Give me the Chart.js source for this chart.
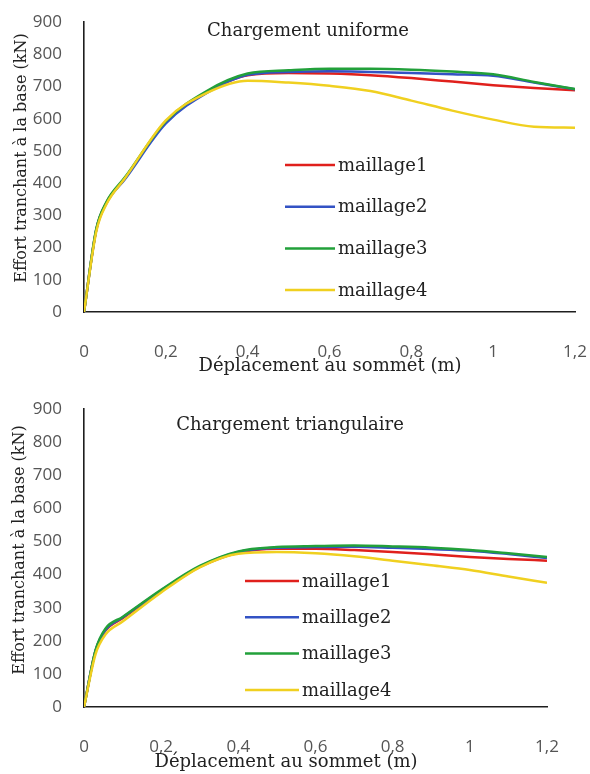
<!DOCTYPE html>
<html>
<head>
<meta charset="utf-8">
<script src="https://cdn.jsdelivr.net/npm/chart.js@4.4.1/dist/chart.umd.min.js"></script>
<style>
  html, body { margin: 0; padding: 0; background: #ffffff; }
  #wrap { position: relative; width: 590px; height: 774px; }
  .panel { position: absolute; left: 0; width: 590px; height: 387px; }
</style>
</head>
<body>
<div id="wrap">
  <div class="panel" style="top:0"><canvas id="cUniform" width="590" height="387"></canvas></div>
  <div class="panel" style="top:387px"><canvas id="cTriang" width="590" height="387"></canvas></div>
</div>
<script>
// Top displacement (m) at which the base shear was sampled
const displacement = [0, 0.03, 0.055, 0.1, 0.2, 0.3, 0.4, 0.5, 0.6, 0.7, 0.8, 0.9, 1.0, 1.1, 1.2];

// Base shear (kN) - uniform loading
const uniformMesh1 = [0, 255, 340, 415, 590, 682, 735, 742, 740, 735, 726, 715, 704, 695, 688];
const uniformMesh2 = [0, 255, 338, 412, 585, 680, 736, 745, 747, 745, 742, 738, 733, 712, 691];
const uniformMesh3 = [0, 258, 342, 418, 592, 686, 740, 750, 755, 755, 752, 746, 738, 714, 692];
const uniformMesh4 = [0, 250, 335, 415, 595, 680, 718, 712, 702, 686, 656, 625, 597, 575, 572];

// Base shear (kN) - triangular loading
const triangMesh1 = [0, 170, 230, 268, 350, 423, 466, 478, 478, 474, 468, 461, 453, 447, 442];
const triangMesh2 = [0, 170, 232, 270, 352, 424, 468, 481, 483, 484, 481, 477, 472, 462, 450];
const triangMesh3 = [0, 172, 236, 272, 354, 426, 470, 483, 486, 488, 485, 481, 474, 464, 453];
const triangMesh4 = [0, 160, 218, 258, 346, 422, 463, 468, 464, 455, 442, 428, 414, 394, 375];

const seriesLabels = ['maillage1', 'maillage2', 'maillage3', 'maillage4'];
const seriesColors = ['#e0201c', '#3352c4', '#22a03a', '#f0d020'];
const xTickLabels = ['0', '0,2', '0,4', '0,6', '0,8', '1', '1,2'];
const yTickLabels = ['0', '100', '200', '300', '400', '500', '600', '700', '800', '900'];

const xTitle = 'Déplacement au sommet (m)';
const yTitle = 'Effort tranchant à la base (kN)';

const serif = '"DejaVu Serif", serif';
const sans = '"Open Sans", sans-serif';

// Panel title, in-plot legend and axis titles
const panelText = {
  id: 'panelText',
  afterDraw(chart, args, o) {
    const ctx = chart.ctx;
    ctx.save();
    ctx.fillStyle = '#222';
    ctx.textBaseline = 'middle';

    ctx.font = '18px ' + serif;
    ctx.textAlign = 'center';
    ctx.fillText(o.title, o.titleX, o.titleY);

    ctx.fillText(xTitle, o.xTitleX, o.xTitleY);

    ctx.save();
    ctx.translate(o.yTitleX, o.yTitleY);
    ctx.rotate(-Math.PI / 2);
    ctx.font = '16px ' + serif;
    ctx.fillText(yTitle, 0, 0);
    ctx.restore();

    ctx.font = '18px ' + serif;
    ctx.textAlign = 'left';
    chart.data.datasets.forEach((ds, i) => {
      const y = o.legendY + i * o.legendGap;
      ctx.strokeStyle = ds.borderColor;
      ctx.lineWidth = 2.5;
      ctx.beginPath();
      ctx.moveTo(o.legendX, y);
      ctx.lineTo(o.legendX + o.sampleLen, y);
      ctx.stroke();
      ctx.fillText(ds.label, o.legendX + o.sampleLen + 3, y + 1);
    });
    ctx.restore();
  }
};

function buildDatasets(seriesList) {
  return seriesList.map((ys, k) => ({
    label: seriesLabels[k],
    data: displacement.map((x, i) => ({ x: x, y: ys[i] })),
    borderColor: seriesColors[k],
    backgroundColor: seriesColors[k],
    borderWidth: 2.5,
    pointRadius: 0,
    cubicInterpolationMode: 'monotone',
    order: 4 - k
  }));
}

// Invisible tick marks are used as the gap between axis line and labels
function hiddenTicks(len) {
  return { display: true, drawOnChartArea: false, drawTicks: true, tickLength: len, tickColor: 'rgba(0,0,0,0)', color: 'rgba(0,0,0,0)' };
}

function makeChart(id, seriesList, look) {
  return new Chart(document.getElementById(id), {
    type: 'line',
    data: { datasets: buildDatasets(seriesList) },
    options: {
      responsive: false,
      animation: false,
      events: [],
      layout: { padding: { left: 0, right: look.padRight, top: look.padTop, bottom: 0 } },
      plugins: {
        legend: { display: false },
        tooltip: { enabled: false },
        panelText: look.text
      },
      scales: {
        x: {
          type: 'linear', min: 0, max: 1.2,
          grid: hiddenTicks(look.xTickGap),
          border: { display: true, color: '#1e1e1e', width: 1.6 },
          ticks: {
            stepSize: 0.2, padding: 0, color: '#555',
            font: { family: sans, size: 17 },
            autoSkip: false, maxRotation: 0,
            callback: (v, i) => xTickLabels[i]
          },
          afterFit(s) { s.height = look.xAxisHeight; }
        },
        y: {
          min: 0, max: 900,
          grid: hiddenTicks(22),
          border: { display: true, color: '#1e1e1e', width: 1.6 },
          ticks: {
            stepSize: 100, padding: 0, color: '#555',
            font: { family: sans, size: 17 },
            callback: (v, i) => yTickLabels[i]
          },
          afterFit(s) { s.width = 84; }
        }
      }
    },
    plugins: [panelText]
  });
}

makeChart('cUniform', [uniformMesh1, uniformMesh2, uniformMesh3, uniformMesh4], {
  padRight: 15, padTop: 22, xAxisHeight: 75, xTickGap: 30,
  text: {
    title: 'Chargement uniforme', titleX: 308, titleY: 31,
    xTitleX: 330, xTitleY: 366, yTitleX: 22, yTitleY: 158,
    legendX: 285, legendY: 165, legendGap: 41.7, sampleLen: 50
  }
});

makeChart('cTriang', [triangMesh1, triangMesh2, triangMesh3, triangMesh4], {
  padRight: 43, padTop: 22, xAxisHeight: 67, xTickGap: 30,
  text: {
    title: 'Chargement triangulaire', titleX: 290, titleY: 38,
    xTitleX: 286, xTitleY: 375, yTitleX: 20, yTitleY: 163,
    legendX: 245, legendY: 194, legendGap: 36.3, sampleLen: 54
  }
});
</script>
</body>
</html>
